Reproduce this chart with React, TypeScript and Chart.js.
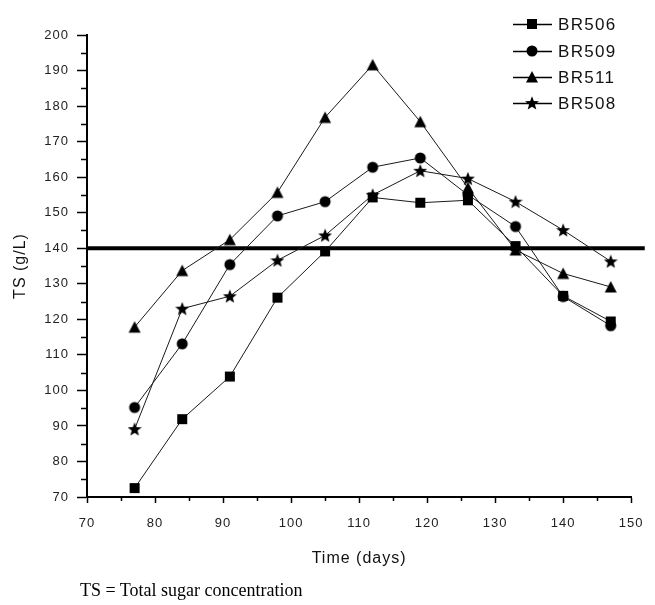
import React, { useEffect, useRef } from 'react';
import { Chart, registerables } from 'chart.js';

Chart.register(...registerables);

// ---- data ----
const days = [77, 84, 91, 98, 105, 112, 119, 126, 133, 140, 147];
const br506 = [72.5, 91.9, 103.9, 126.1, 139.1, 154.3, 152.8, 153.5, 140.6, 126.6, 119.4];
const br509 = [95.2, 113.1, 135.4, 149.1, 153.1, 162.8, 165.4, 155.0, 146.1, 126.4, 118.2];
const br511 = [117.8, 133.7, 142.4, 155.7, 176.8, 191.6, 175.6, 157.0, 139.5, 132.9, 129.1];
const br508 = [89.1, 123.0, 126.5, 136.6, 143.6, 155.0, 161.8, 159.6, 153.1, 145.1, 136.3];
const seriesNames = ['BR506', 'BR509', 'BR511', 'BR508'];
const seriesValues = [br506, br509, br511, br508];
const markerKinds = ['square', 'circle', 'triangle', 'star'];
const thresholdTS = 140;
const thresholdSpan = [70, 152];
const xRange = [70, 150];
const yRange = [70, 200];
const xTitle = 'Time (days)';
const yTitle = 'TS (g/L)';
const caption = 'TS = Total sugar concentration';

function makeMarker(kind: string): HTMLCanvasElement {
  const c = document.createElement('canvas');
  const s = 14;
  c.width = s;
  c.height = s;
  const g = c.getContext('2d')!;
  g.fillStyle = '#000';
  g.beginPath();
  if (kind === 'square') {
    g.rect(2, 2, 10, 10);
  } else if (kind === 'circle') {
    g.arc(7, 7, 5.5, 0, Math.PI * 2);
  } else if (kind === 'triangle') {
    g.moveTo(7, 1);
    g.lineTo(13, 12.5);
    g.lineTo(1, 12.5);
    g.closePath();
  } else {
    const R = 7.3, r = 3.1;
    for (let i = 0; i < 10; i++) {
      const a = -Math.PI / 2 + (i * Math.PI) / 5;
      const rad = i % 2 === 0 ? R : r;
      const px = 7 + rad * Math.cos(a);
      const py = 7.6 + rad * Math.sin(a);
      if (i === 0) g.moveTo(px, py);
      else g.lineTo(px, py);
    }
    g.closePath();
  }
  g.fill();
  return c;
}

export default function App() {
  const ref = useRef<HTMLCanvasElement | null>(null);

  useEffect(() => {
    document.documentElement.style.overflow = 'hidden';
    document.body.style.margin = '0';
    document.body.style.overflow = 'hidden';
    const canvas = ref.current;
    if (!canvas) return;
    const markers = markerKinds.map(makeMarker);

    const datasets: any[] = seriesNames.map((name, i) => ({
      label: name,
      data: days.map((d, j) => ({ x: d, y: seriesValues[i][j] })),
      showLine: true,
      borderColor: '#1a1a1a',
      borderWidth: 1,
      pointStyle: markers[i],
      pointRadius: 6,
      backgroundColor: '#000',
    }));
    datasets.push({
      label: 'threshold',
      data: thresholdSpan.map((x) => ({ x, y: thresholdTS })),
      showLine: true,
      borderColor: '#000',
      borderWidth: 4,
      pointRadius: 0,
      clip: false,
    });

    const minorTicks = {
      id: 'minorTicks',
      beforeDraw(chart: any) {
        chart.ctx.letterSpacing = '1px';
      },
      afterDraw(chart: any) {
        const ctx = chart.ctx;
        const xs = chart.scales.x;
        const ys = chart.scales.y;
        const area = chart.chartArea;
        ctx.save();
        ctx.strokeStyle = '#000';
        ctx.lineWidth = 1.5;
        ctx.beginPath();
        for (let v = yRange[0] + 5; v < yRange[1]; v += 10) {
          const py = Math.round(ys.getPixelForValue(v)) + 0.5;
          ctx.moveTo(area.left - 6, py);
          ctx.lineTo(area.left, py);
        }
        for (let v = xRange[0] + 5; v < xRange[1]; v += 10) {
          const px = Math.round(xs.getPixelForValue(v)) + 0.5;
          ctx.moveTo(px, area.bottom);
          ctx.lineTo(px, area.bottom + 4);
        }
        ctx.stroke();

        // legend
        const ly = [24, 51, 77, 103];
        ctx.font = '17px "Liberation Sans", Arial, sans-serif';
        ctx.letterSpacing = '1.3px';
        ctx.textBaseline = 'middle';
        ctx.textAlign = 'left';
        ctx.fillStyle = '#111';
        seriesNames.forEach((name, i) => {
          const y = ly[i];
          ctx.beginPath();
          ctx.lineWidth = 1.5;
          ctx.moveTo(513, y + 0.5);
          ctx.lineTo(552, y + 0.5);
          ctx.stroke();
          const m = markers[i];
          ctx.drawImage(m, 532 - m.width / 2, y - m.height / 2);
          ctx.fillText(name, 558, y + 1);
        });
        ctx.restore();
      },
    };

    const tickFont = { family: '"Liberation Sans", Arial, sans-serif', size: 13 };

    const chart = new Chart(canvas, {
      type: 'scatter',
      data: { datasets },
      plugins: [minorTicks],
      options: {
        responsive: false,
        animation: false,
        events: [],
        layout: { padding: { top: 35, right: 14, left: 0, bottom: 0 } },
        plugins: { legend: { display: false }, tooltip: { enabled: false } },
        scales: {
          x: {
            type: 'linear',
            min: xRange[0],
            max: xRange[1],
            afterFit(scale: any) {
              scale.height = 108;
            },
            border: { display: true, color: '#000', width: 2 },
            grid: {
              display: true,
              drawOnChartArea: false,
              drawTicks: true,
              tickLength: 6,
              tickColor: '#000',
              tickWidth: 1.5,
            },
            ticks: {
              stepSize: 10,
              padding: 13,
              color: '#222',
              font: tickFont,
              maxRotation: 0,
            },
            title: {
              display: true,
              text: xTitle,
              color: '#111',
              font: { family: '"Liberation Sans", Arial, sans-serif', size: 16 },
              padding: { top: 0, bottom: 37 },
            },
          },
          y: {
            type: 'linear',
            min: yRange[0],
            max: yRange[1],
            afterFit(scale: any) {
              scale.width = 87;
            },
            border: { display: true, color: '#000', width: 2 },
            grid: {
              display: true,
              drawOnChartArea: false,
              drawTicks: true,
              tickLength: 10,
              tickColor: '#000',
              tickWidth: 1.5,
            },
            ticks: {
              stepSize: 10,
              padding: 8,
              color: '#222',
              font: tickFont,
            },
            title: {
              display: true,
              text: yTitle,
              color: '#111',
              font: { family: '"Liberation Sans", Arial, sans-serif', size: 16 },
              padding: { top: 11, bottom: 0 },
            },
          },
        },
      },
    });
    return () => chart.destroy();
  }, []);

  return (
    <div style={{ position: 'relative', width: 655, height: 605, overflow: 'hidden', background: '#fff' }}>
      <canvas ref={ref} width={655} height={605} style={{ display: 'block' }} />
      <div
        style={{
          position: 'absolute',
          left: 80,
          top: 580,
          fontFamily: '"Liberation Serif", "Times New Roman", serif',
          fontSize: 18,
          color: '#000',
          whiteSpace: 'nowrap',
        }}
      >
        {caption}
      </div>
    </div>
  );
}
